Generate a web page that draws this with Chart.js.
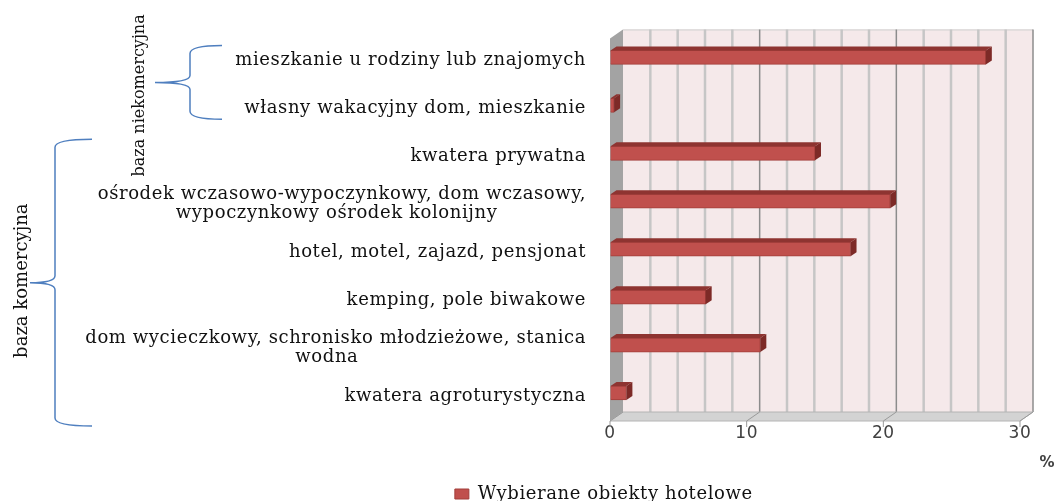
<!DOCTYPE html>
<html>
<head>
<meta charset="utf-8">
<script src="https://cdn.jsdelivr.net/npm/chart.js@4/dist/chart.umd.min.js"></script>
<style>
html, body { margin: 0; padding: 0; background: #fff; }
</style>
</head>
<body>
<canvas id="myChart" width="1063" height="501"></canvas>
<script>
// data
var categories = [
  ['mieszkanie u rodziny lub znajomych'],
  ['własny wakacyjny dom, mieszkanie'],
  ['kwatera prywatna'],
  ['ośrodek wczasowo-wypoczynkowy, dom wczasowy,', 'wypoczynkowy ośrodek kolonijny'],
  ['hotel, motel, zajazd, pensjonat'],
  ['kemping, pole biwakowe'],
  ['dom wycieczkowy, schronisko młodzieżowe, stanica', 'wodna'],
  ['kwatera agroturystyczna']
];
var values = [27.5, 0.3, 15.0, 20.5, 17.6, 7.0, 11.0, 1.2];
var seriesName = 'Wybierane obiekty hotelowe';
var groupNames = ['baza niekomercyjna', 'baza komercyjna'];
var groupFrom = [0, 2];
var groupTo = [1, 7];
var xMax = 30;
var unit = '%';

var labelFont = { family: 'DejaVu Serif', size: 18, lineHeight: 1.05 };

// second line of a wrapped label sits centred under the first one
function centerLines(lines) {
  if (lines.length < 2) return lines[0];
  var c = document.createElement('canvas').getContext('2d');
  c.font = labelFont.size + 'px "' + labelFont.family + '"';
  var w0 = c.measureText(lines[0]).width;
  var sp = c.measureText(' ').width;
  return lines.map(function(l, i) {
    if (i === 0) return l;
    var n = Math.round((w0 - c.measureText(l).width) / 2 / sp);
    return l + ' '.repeat(Math.max(0, n));
  });
}

var DX = 13, DY = 9;

var walls = {
  id: 'walls',
  afterLayout: function(chart) {
    var l = chart.legend;
    l.left += 86; l.right += 86;
    l.top += 12; l.bottom += 12;
    // category labels sit a little low in the source
    var ys = chart.scales.y;
    if (!ys._shifted) {
      var orig = ys.drawLabels;
      ys.drawLabels = function(area) {
        chart.ctx.save();
        chart.ctx.translate(0, 3);
        orig.call(this, area);
        chart.ctx.restore();
      };
      ys._shifted = true;
    }
  },
  beforeDraw: function(chart) {
    // the source text is a bit stretched sideways
    chart.ctx.letterSpacing = '0.6px';
  },
  beforeDatasetsDraw: function(chart) {
    var ctx = chart.ctx, a = chart.chartArea, xs = chart.scales.x;
    ctx.letterSpacing = '0px';
    var x0 = xs.getPixelForValue(0), x1 = xs.getPixelForValue(xMax);
    var front = a.bottom + 4, backTop = a.top - 4, backBot = front - DY;
    ctx.save();
    ctx.fillStyle = '#f5e9ea';
    ctx.fillRect(x0 + DX, backTop, x1 - x0, backBot - backTop);
    ctx.strokeStyle = '#cfcfcf';
    ctx.lineWidth = 1;
    ctx.beginPath();
    ctx.moveTo(x0 + DX, backTop + 0.5); ctx.lineTo(x1 + DX, backTop + 0.5);
    ctx.stroke();
    xs.ticks.forEach(function(t, i) {
      if (t.value === 0) return;
      var px = xs.getPixelForTick(i) + DX;
      var major = t.value % 10 === 0;
      ctx.strokeStyle = major ? '#8c8c8c' : '#c6c6c6';
      ctx.lineWidth = major ? 1.5 : 2.5;
      ctx.beginPath();
      ctx.moveTo(px, backTop); ctx.lineTo(px, backBot);
      ctx.stroke();
    });
    // left wall
    ctx.fillStyle = '#a3a3a3';
    ctx.beginPath();
    ctx.moveTo(x0, a.top + 5); ctx.lineTo(x0 + DX, backTop);
    ctx.lineTo(x0 + DX, backBot); ctx.lineTo(x0, front);
    ctx.closePath(); ctx.fill();
    // floor
    ctx.fillStyle = '#d3d3d3';
    ctx.strokeStyle = '#b4b4b4';
    ctx.lineWidth = 1;
    ctx.beginPath();
    ctx.moveTo(x0, front); ctx.lineTo(x1, front);
    ctx.lineTo(x1 + DX, backBot); ctx.lineTo(x0 + DX, backBot);
    ctx.closePath(); ctx.fill(); ctx.stroke();
    xs.ticks.forEach(function(t, i) {
      if (t.value % 10 !== 0) return;
      var px = xs.getPixelForTick(i);
      ctx.strokeStyle = '#9a9a9a';
      ctx.beginPath();
      ctx.moveTo(px, front); ctx.lineTo(px + DX, backBot);
      ctx.moveTo(px, front); ctx.lineTo(px, front + 6);
      ctx.stroke();
    });
    ctx.restore();
  },
  afterDatasetsDraw: function(chart) {
    var ctx = chart.ctx;
    var bx = 6, by = 4;
    ctx.save();
    chart.getDatasetMeta(0).data.forEach(function(bar) {
      var p = bar.getProps(['x', 'y', 'base', 'height'], true);
      var t = p.y - p.height / 2, b = p.y + p.height / 2;
      ctx.fillStyle = '#8e3431';
      ctx.beginPath();
      ctx.moveTo(p.base, t); ctx.lineTo(p.x, t);
      ctx.lineTo(p.x + bx, t - by); ctx.lineTo(p.base + bx, t - by);
      ctx.closePath(); ctx.fill();
      ctx.fillStyle = '#7d2a27';
      ctx.beginPath();
      ctx.moveTo(p.x, t); ctx.lineTo(p.x + bx, t - by);
      ctx.lineTo(p.x + bx, b - by); ctx.lineTo(p.x, b);
      ctx.closePath(); ctx.fill();
    });
    ctx.restore();
  },
  afterDraw: function(chart) {
    var ctx = chart.ctx, ys = chart.scales.y;
    ctx.save();
    ctx.letterSpacing = '0px';
    // braces for the two groups
    var braces = [
      { xr: 222, xv: 190, xt: 155, top: -12, bot: 14, tx: 140, size: 16 },
      { xr: 92, xv: 55, xt: 30, top: -14, bot: 33, tx: 22, size: 18 }
    ];
    braces.forEach(function(br, g) {
      var top = ys.getPixelForValue(groupFrom[g]) + br.top;
      var bot = ys.getPixelForValue(groupTo[g]) + br.bot;
      var mid = (top + bot) / 2;
      ctx.strokeStyle = '#4f7fbf';
      ctx.lineWidth = 1.5;
      ctx.beginPath();
      ctx.moveTo(br.xr, top);
      ctx.quadraticCurveTo(br.xv, top, br.xv, top + 8);
      ctx.lineTo(br.xv, mid - 7);
      ctx.quadraticCurveTo(br.xv, mid, br.xt, mid);
      ctx.quadraticCurveTo(br.xv, mid, br.xv, mid + 7);
      ctx.lineTo(br.xv, bot - 8);
      ctx.quadraticCurveTo(br.xv, bot, br.xr, bot);
      ctx.stroke();
      ctx.save();
      ctx.translate(br.tx, mid + (g === 0 ? 13 : -2));
      ctx.rotate(-Math.PI / 2);
      ctx.fillStyle = '#111';
      ctx.font = br.size + 'px "DejaVu Serif"';
      ctx.textAlign = 'center';
      ctx.textBaseline = 'middle';
      ctx.fillText(groupNames[g], 0, 0);
      ctx.restore();
    });
    ctx.fillStyle = '#404040';
    ctx.font = 'bold 15px "DejaVu Sans"';
    ctx.textAlign = 'center';
    ctx.textBaseline = 'middle';
    ctx.fillText(unit, 1047, 463);
    ctx.restore();
  }
};

var ctx = document.getElementById('myChart');
var myChart = new Chart(ctx, {
  type: 'bar',
  data: {
    labels: categories.map(centerLines),
    datasets: [{
      label: seriesName,
      data: values,
      backgroundColor: '#c0504d',
      borderColor: '#a23e3b',
      borderWidth: 1,
      barThickness: 14
    }]
  },
  options: {
    indexAxis: 'y',
    responsive: false,
    animation: false,
    devicePixelRatio: 1,
    layout: { padding: { top: 31, right: 43, left: 0, bottom: 0 } },
    scales: {
      x: {
        min: 0,
        max: xMax,
        afterFit: function(scale) { scale.height = 50; },
        ticks: {
          stepSize: 2,
          autoSkip: false,
          maxRotation: 0,
          padding: 6,
          color: '#404040',
          font: { family: 'DejaVu Sans', size: 17 },
          callback: function(v) { return v % 10 === 0 ? v : ''; }
        },
        grid: {
          drawOnChartArea: false,
          drawTicks: false
        },
        border: { display: false }
      },
      y: {
        afterFit: function(scale) { scale.width = 610; },
        ticks: {
          padding: 24,
          color: '#111',
          font: labelFont
        },
        grid: { display: false, drawTicks: false },
        border: { display: false }
      }
    },
    plugins: {
      legend: {
        position: 'bottom',
        labels: {
          boxWidth: 14,
          boxHeight: 10,
          padding: 6,
          color: '#111',
          font: { family: 'DejaVu Serif', size: 18 }
        }
      },
      tooltip: { enabled: false }
    }
  },
  plugins: [walls]
});
</script>
</body>
</html>
